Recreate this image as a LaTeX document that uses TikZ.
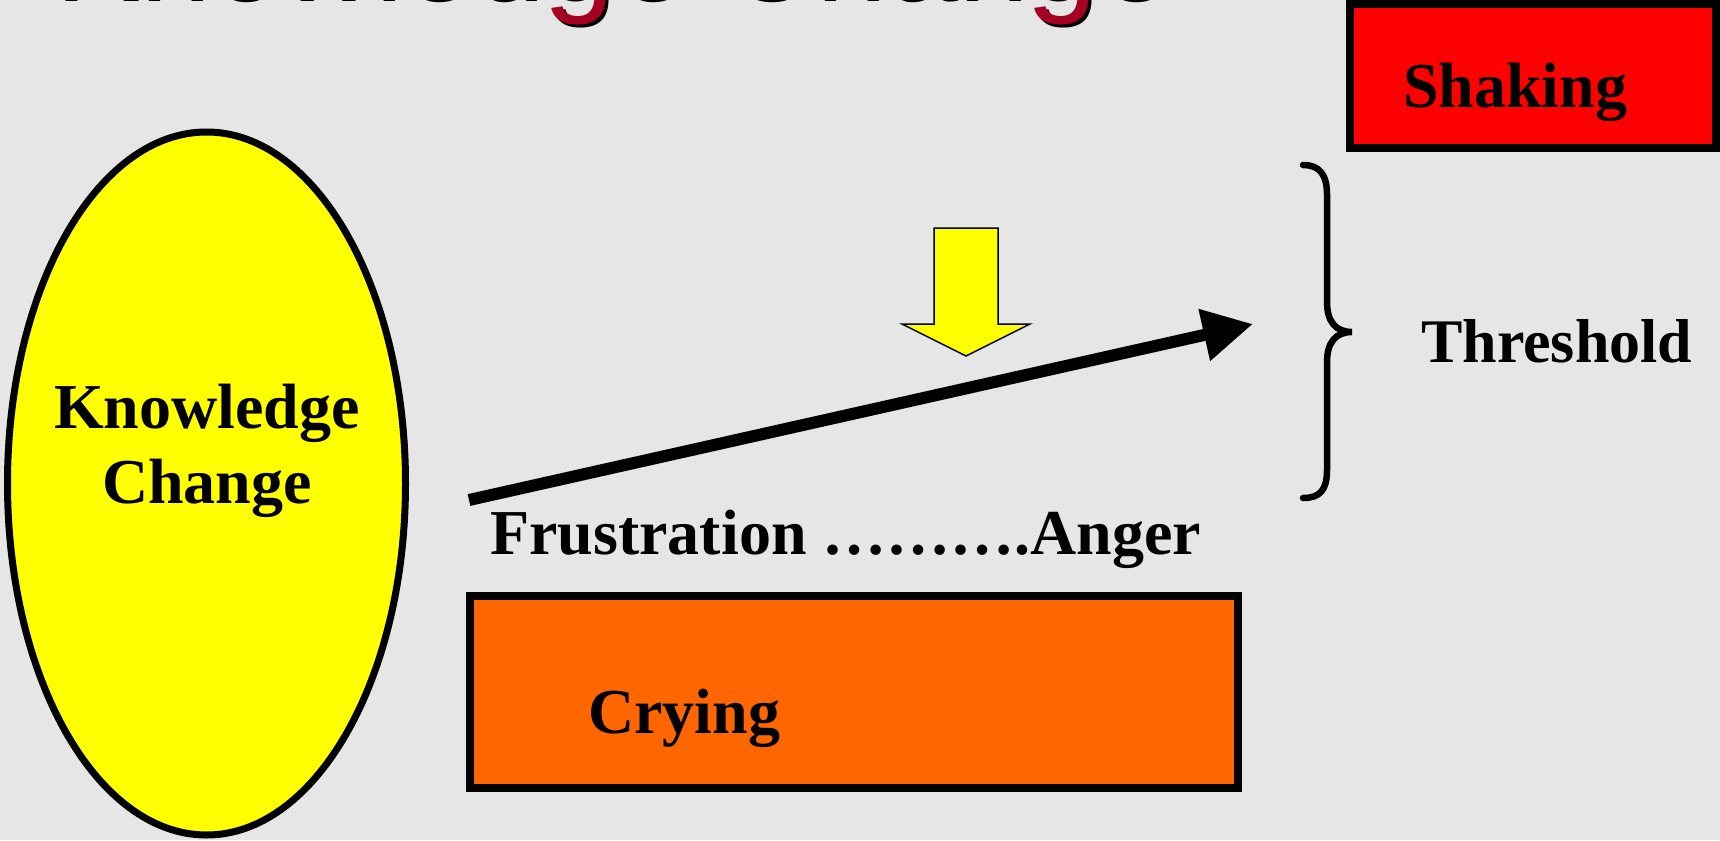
\documentclass[tikz,border=0pt]{standalone}
\usepackage{fontspec}
\setmainfont{Liberation Serif}
\newfontfamily\titlefont{Liberation Sans}
\usetikzlibrary{arrows.meta,shapes.geometric}
\definecolor{bg}{RGB}{230,230,230}
\definecolor{titlered}{RGB}{165,0,33}
\definecolor{orangebox}{RGB}{255,102,0}
\definecolor{redbox}{RGB}{255,0,0}
\definecolor{yellowfill}{RGB}{255,255,0}
\begin{document}
\begin{tikzpicture}[x=1pt,y=-1pt,
  lbl/.style={inner sep=0pt, anchor=base west, font=\fontsize{64}{70}\selectfont\bfseries},
  lblc/.style={inner sep=0pt, anchor=base, font=\fontsize{64}{70}\selectfont\bfseries},
  boxstyle/.style={draw=black, line width=8pt, rectangle, inner sep=0pt},
  titletext/.style={inner sep=0pt, anchor=base west, font=\titlefont\fontsize{128}{130}\selectfont}]
\useasboundingbox (0,0) rectangle (1720,840);
\clip (0,0) rectangle (1720,840);
\fill[bg] (0,0) rectangle (1720,840);

% title (mostly outside the picture)
\node[titletext, text=black] (titleshadow) at (55,1.5) {Knowledge Change};
\node[titletext, text=titlered] (title) at (52,-1.5) {Knowledge Change};

% Shaking box
\node[boxstyle, fill=redbox, minimum width=366pt, minimum height=144pt] (shakebox) at (1533,76) {};
\node[lbl] (shaking) at (1403,108) {Shaking};

% Knowledge change ellipse
\node[ellipse, draw=black, line width=7pt, fill=yellowfill, minimum width=398pt, minimum height=703pt, inner sep=0pt] (kc) at (206.5,483.5) {};
\node[lblc] (kc1) at (207,428) {Knowledge};
\node[lblc] (kc2) at (207,503) {Change};

% yellow down arrow
\draw[black, line width=1.5pt, fill=yellowfill, line join=miter]
  (934,228) -- (998,228) -- (998,324) -- (1030,324) -- (966,356) -- (902,324) -- (934,324) -- cycle;

% black rising arrow
\coordinate (arrstart) at (469,500);
\coordinate (arrtip) at (1253,324);
\draw[line width=12pt, -{Triangle[length=50pt,width=50pt]}] (arrstart) -- (arrtip);

% brace
\draw[line width=6.5pt, line cap=round]
  (1303,165) .. controls (1320,165) and (1327,175) .. (1327,195)
  -- (1327,302) .. controls (1327,322) and (1336,332) .. (1352,332)
  .. controls (1336,332) and (1327,342) .. (1327,362)
  -- (1327,470) .. controls (1327,490) and (1320,498) .. (1303,498);
\node[lbl, font=\fontsize{62}{70}\selectfont\bfseries] (threshold) at (1421,362) {Threshold};

% Frustration ... Anger
\node[lbl] (frust) at (490,554) {Frustration ……….Anger};

% Crying box
\node[boxstyle, fill=orangebox, minimum width=768pt, minimum height=192pt] (crybox) at (854,692) {};
\node[lbl] (crying) at (588,733) {Crying};
\end{tikzpicture}
\end{document}
